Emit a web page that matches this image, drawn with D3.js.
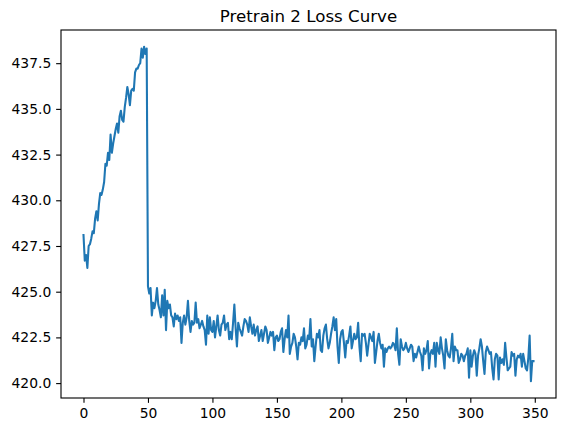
<!DOCTYPE html>
<html>
<head>
<meta charset="utf-8">
<script src="https://cdn.jsdelivr.net/npm/d3@7"></script>
<style>
  body { margin: 0; background: #fff; }
  svg { display: block; font-family: "DejaVu Sans", sans-serif; }
</style>
</head>
<body>
<div id="chart"></div>
<script>
// loss values, one per step (0..349)
const lossRise = [
  428.1, 426.7, 427.0, 426.3, 427.5, 427.6, 427.9, 428.3, 428.2, 429.0,
  429.4, 428.9, 429.8, 430.4, 430.3, 430.6, 431.0, 432.0, 431.9, 432.6,
  432.2, 433.6, 432.6, 433.1, 433.5, 433.9, 434.2, 433.7, 434.6, 434.9,
  434.4, 434.3, 435.1, 435.6, 436.2, 435.8, 435.2, 436.0, 436.1, 436.0,
  437.0, 437.2, 437.2, 437.4, 437.5, 438.3, 437.8, 438.4, 438.0, 438.3
];
const lossDrop = [
  425.3, 424.9, 425.2, 423.7, 424.4, 424.1, 424.5, 425.2, 424.3, 424.0,
  423.6, 424.8, 423.7, 425.1, 422.9, 424.5, 424.1, 424.3, 423.7, 423.6,
  423.1, 423.8, 423.5, 423.7, 423.4, 423.6, 422.2, 423.3, 423.7, 423.2,
  423.6, 424.5, 423.4, 422.8, 423.4, 423.2, 423.3, 424.4, 423.3, 423.5,
  423.0, 423.2, 423.4, 423.1, 422.9, 422.1, 423.7, 422.7, 423.6, 422.9,
  422.8, 423.4, 422.5, 423.1, 423.7, 422.9, 422.6, 423.2, 423.3, 423.7,
  422.9, 423.2, 423.3, 422.4, 422.8, 422.4, 423.3, 424.3, 423.0, 422.0,
  423.3, 423.0, 422.8, 422.6, 423.1, 423.5, 423.4, 423.2, 422.8, 423.6,
  423.1, 422.7, 423.2, 422.6, 422.9, 423.1, 422.3, 422.6, 422.9, 422.3,
  422.7, 423.1, 422.9, 422.2, 422.5, 422.8, 422.6, 422.8, 421.8, 422.5
];
const lossTail = [
  422.6, 422.3, 422.4, 422.8, 423.0, 421.7, 422.4, 422.9, 422.5, 423.7,
  421.6, 422.0, 422.2, 422.7, 422.5, 422.0, 421.3, 422.2, 422.1, 422.5,
  422.3, 423.0, 421.9, 422.1, 422.6, 422.4, 423.5, 422.0, 422.4, 421.2,
  422.0, 422.7, 422.5, 422.9, 421.8, 421.7, 422.6, 423.0, 423.2, 422.4,
  421.9, 422.2, 422.7, 423.1, 423.6, 422.9, 423.5, 422.0, 421.1, 422.4,
  422.8, 422.9, 422.2, 421.4, 422.3, 422.2, 422.6, 423.1, 421.9, 422.3,
  422.7, 422.4, 422.5, 423.3, 422.0, 421.2, 422.7, 422.6, 422.7, 422.2,
  421.5, 422.1, 422.7, 422.5, 422.3, 422.8, 421.1, 421.7, 422.3, 422.7,
  422.2, 421.9, 422.1, 420.9, 421.9, 421.7, 421.9, 422.0, 421.9, 422.0,
  422.2, 422.1, 421.8, 423.0, 421.6, 421.0, 422.4, 422.0, 421.8, 421.9,
  422.2, 421.9, 421.7, 421.9, 422.1, 422.0, 421.2, 421.6, 421.4, 421.7,
  422.0, 421.7, 421.5, 420.7, 421.9, 421.6, 421.8, 422.3, 420.8, 421.6,
  421.8, 421.6, 422.2, 420.9, 422.2, 421.8, 421.6, 422.5, 421.9, 421.5,
  420.8, 422.4, 421.8, 421.5, 421.4, 421.9, 422.7, 421.2, 422.0, 421.8,
  421.8, 421.1, 421.3, 421.6, 421.5, 421.2, 421.5, 421.6, 421.9, 420.3,
  421.8, 420.9, 421.5, 421.8, 421.6, 420.4, 421.5, 421.9, 422.4, 422.0,
  421.2, 420.5, 421.7, 422.0, 421.8, 421.6, 421.7, 420.8, 420.2, 421.3,
  421.6, 421.5, 420.2, 421.4, 421.1, 421.3, 421.0, 422.2, 421.4, 420.7,
  420.8, 420.9, 421.7, 421.5, 421.6, 420.4, 421.3, 421.5, 421.4, 421.6,
  420.9, 421.6, 421.2, 420.8, 420.7, 421.4, 422.6, 420.1, 421.2, 421.2
];
const loss = lossRise.concat(lossDrop, lossTail);

const xTicks = [0, 50, 100, 150, 200, 250, 300, 350];
const yTicks = [420.0, 422.5, 425.0, 427.5, 430.0, 432.5, 435.0, 437.5];
const title = "Pretrain 2 Loss Curve";

const width = 565, height = 433;
const margin = { top: 30, right: 9, bottom: 35, left: 61 };
const pt = 100 / 72; // matplotlib points -> px

const svg = d3.select("#chart").append("svg")
    .attr("width", width)
    .attr("height", height);

// 5% padding on both axes, like matplotlib autoscale
const xPad = (loss.length - 1) * 0.05;
const xScale = d3.scaleLinear()
    .domain([-xPad, loss.length - 1 + xPad])
    .range([margin.left, width - margin.right]);

const [yMin, yMax] = d3.extent(loss);
const yPad = (yMax - yMin) * 0.05;
const yScale = d3.scaleLinear()
    .domain([yMin - yPad, yMax + yPad])
    .range([height - margin.bottom, margin.top]);

const line = d3.line()
    .x((d, i) => xScale(i))
    .y(d => yScale(d));

svg.append("path")
    .datum(loss)
    .attr("fill", "none")
    .attr("stroke", "#1f77b4")
    .attr("stroke-width", 1.5 * pt)
    .attr("stroke-linejoin", "round")
    .attr("stroke-linecap", "square")
    .attr("d", line);

// axes
const xAxis = d3.axisBottom(xScale)
    .tickValues(xTicks)
    .tickFormat(d3.format("d"))
    .tickSizeInner(3.5 * pt)
    .tickSizeOuter(0)
    .tickPadding(3.5 * pt);

const yAxis = d3.axisLeft(yScale)
    .tickValues(yTicks)
    .tickFormat(d3.format(".1f"))
    .tickSizeInner(3.5 * pt)
    .tickSizeOuter(0)
    .tickPadding(3.5 * pt);

const gX = svg.append("g")
    .attr("transform", "translate(0," + (height - margin.bottom) + ")")
    .call(xAxis);

const gY = svg.append("g")
    .attr("transform", "translate(" + margin.left + ",0)")
    .call(yAxis);

[gX, gY].forEach(g => {
    g.select(".domain").remove();
    g.selectAll("line").attr("stroke", "#000").attr("stroke-width", 0.8 * pt);
    g.selectAll("text")
        .attr("fill", "#000")
        .style("font-size", (10 * pt) + "px")
        .style("font-family", "DejaVu Sans");
});

// frame
svg.append("rect")
    .attr("x", margin.left)
    .attr("y", margin.top)
    .attr("width", width - margin.left - margin.right)
    .attr("height", height - margin.top - margin.bottom)
    .attr("fill", "none")
    .attr("stroke", "#000")
    .attr("stroke-width", 0.8 * pt);

// title
svg.append("text")
    .attr("x", (margin.left + width - margin.right) / 2)
    .attr("y", margin.top - 6 * pt)
    .attr("text-anchor", "middle")
    .style("font-size", (12 * pt) + "px")
    .style("font-family", "DejaVu Sans")
    .text(title);
</script>
</body>
</html>
